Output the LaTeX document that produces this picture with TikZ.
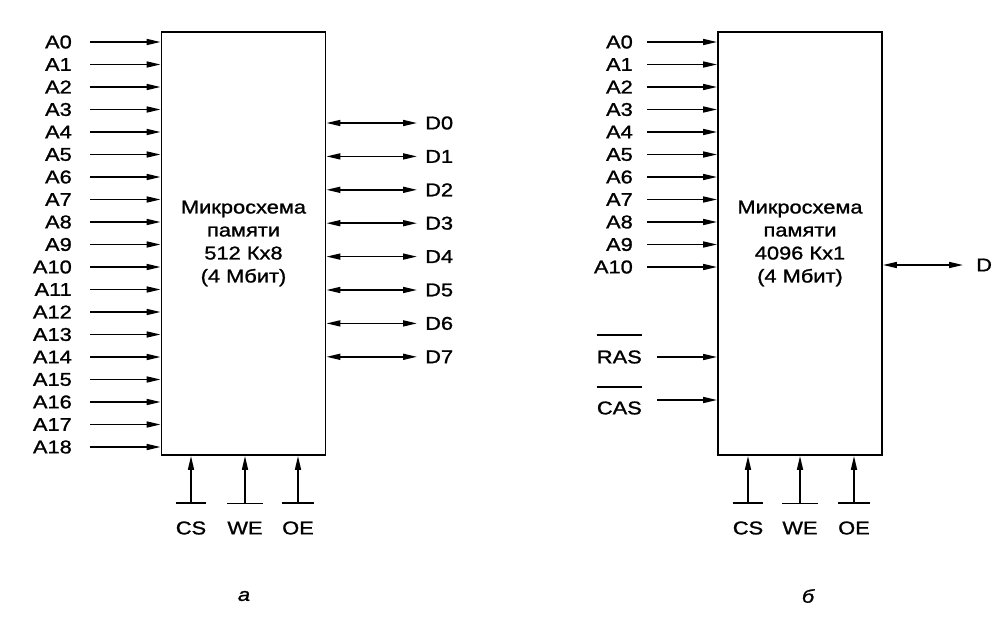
\documentclass[tikz,border=0pt]{standalone}
\usepackage{fontspec}
\setmainfont{Liberation Sans}[FakeStretch=1.18,FakeBold=1.2]
\usetikzlibrary{arrows.meta,calc}

\begin{document}
\begin{tikzpicture}[x=1pt,y=-1pt,
    chip/.style={draw,line width=1.8pt,minimum width=164pt,minimum height=423pt,
      inner sep=0pt,align=center,font=\fontsize{18.5}{23}\selectfont},
    sig/.style={line width=1.6pt,-{Triangle[length=14pt,width=6pt]}},
    bus/.style={line width=1.6pt,{Triangle[length=14pt,width=6pt]}-{Triangle[length=14pt,width=6pt]}},
    bar/.style={line width=1.6pt},
    pin/.style={inner sep=0pt,font=\fontsize{18.5}{22}\selectfont}]
\useasboundingbox (0,0) rectangle (993,616);
% chip a: 512 Kx8
\node[chip] (ChipA) at (243.5,243.5) {Микросхема\\памяти\\512 Кx8\\(4 Мбит)};
\foreach \i in {0,...,18} {
  \node[pin,anchor=east] (LA\i) at (72,42+22.5*\i) {A\i};
  \draw[sig] ([xshift=18pt]LA\i.east) -- (LA\i.east -| ChipA.west);
}
\foreach \i in {0,...,7} {
  \node[pin,anchor=west] (LD\i) at (425,123+33.4*\i) {D\i};
  \draw[bus] (LD\i.west -| ChipA.east) -- ([xshift=-8pt]LD\i.west);
}
\foreach \s/\x in {CS/191,WE/245,OE/298} {
  \node[pin] (\s a) at (\x,528) {\s};
  \draw[bar] ([yshift=18pt]\s a.north west) -- ([yshift=18pt]\s a.north east);
  \draw[sig] ([yshift=18pt]\s a.north) -- (\s a.north |- ChipA.south);
}
\node[pin,font=\fontsize{18.5}{22}\selectfont\itshape] (CapA) at (244,596) {а};
% chip b: 4096 Kx1
\node[chip] (ChipB) at (800,243.5) {Микросхема\\памяти\\4096 Кx1\\(4 Мбит)};
\foreach \i in {0,...,10} {
  \node[pin,anchor=east] (RA\i) at (633,42+22.5*\i) {A\i};
  \draw[sig] ([xshift=14pt]RA\i.east) -- (RA\i.east -| ChipB.west);
}
\node[pin,anchor=east] (RAS) at (642,357) {RAS};
\draw[bar] ([yshift=15pt]RAS.north west) -- ([yshift=15pt]RAS.north east);
\draw[sig] ([xshift=15pt]RAS.east) -- (RAS.east -| ChipB.west);
\node[pin,anchor=east] (CAS) at (642,408) {CAS};
\draw[bar] ([yshift=14pt]CAS.north west) -- ([yshift=14pt]CAS.north east);
\draw[sig] ([xshift=15pt,yshift=8pt]CAS.east) -- ([yshift=8pt]CAS.east -| ChipB.west);
\node[pin,anchor=west] (RD) at (976,265) {D};
\draw[bus] (RD.west -| ChipB.east) -- ([xshift=-13pt]RD.west);
\foreach \s/\x in {CS/748,WE/800,OE/854} {
  \node[pin] (\s b) at (\x,528) {\s};
  \draw[bar] ([yshift=18pt]\s b.north west) -- ([yshift=18pt]\s b.north east);
  \draw[sig] ([yshift=18pt]\s b.north) -- (\s b.north |- ChipB.south);
}
\node[pin,font=\fontsize{18.5}{22}\selectfont\itshape] (CapB) at (808,596) {б};
\end{tikzpicture}
\end{document}
